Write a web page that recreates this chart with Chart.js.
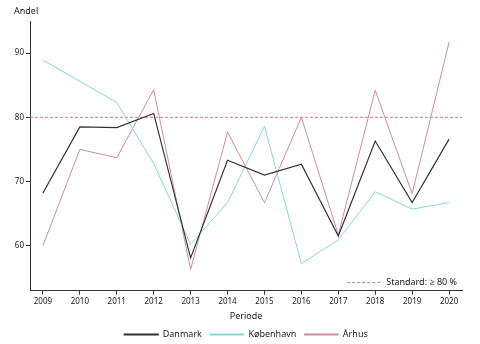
<!DOCTYPE html>
<html>
<head>
<meta charset="utf-8">
<script src="https://cdn.jsdelivr.net/npm/chart.js@4"></script>
<style>
html,body{margin:0;padding:0;background:#fff;}
#wrap{width:480px;height:344px;position:relative;}
</style>
</head>
<body>
<div id="wrap"><canvas id="c" width="480" height="344"></canvas></div>
<script>
const years = [2009,2010,2011,2012,2013,2014,2015,2016,2017,2018,2019,2020];
const danmark = [68.2,78.5,78.4,80.6,58.1,73.3,71.0,72.7,61.5,76.3,66.7,76.6];
const kobenhavn = [88.9,85.6,82.3,72.8,60.2,66.7,78.6,57.2,60.9,68.4,65.7,66.7];
const arhus = [60.0,75.0,73.7,84.3,56.3,77.7,66.7,80.0,61.7,84.2,68.1,91.7];
const standardValue = 80;
const yTicks = [60,70,80,90];
const xMin = 2008.65, xMax = 2020.35;
const yMin = 53, yMax = 95;

const FONT = "'Noto Sans', 'Open Sans', sans-serif";
Chart.defaults.font.family = FONT;
Chart.defaults.font.size = 8;
Chart.defaults.color = '#222';

const toPts = arr => years.map((y,i)=>({x:y,y:arr[i]}));

const extraText = {
  id:'extraText',
  afterDraw(chart){
    const {ctx, chartArea:a} = chart;
    ctx.save();
    ctx.font = "9px " + FONT;
    ctx.fillStyle = '#222';
    ctx.textBaseline = 'middle';
    ctx.textAlign = 'left';
    ctx.fillText('Andel', 14, 11);
    const ty = a.bottom - 8;
    ctx.textAlign = 'right';
    const label = 'Standard: \u2265 80 %';
    ctx.fillText(label, a.right - 5, ty);
    const w = ctx.measureText(label).width;
    const x1 = a.right - 5 - w - 4;
    ctx.strokeStyle = '#d9737f';
    ctx.lineWidth = 1;
    ctx.setLineDash([3,2]);
    ctx.beginPath();
    ctx.moveTo(x1 - 35, ty);
    ctx.lineTo(x1, ty);
    ctx.stroke();
    ctx.restore();
  }
};

new Chart(document.getElementById('c'), {
  type:'line',
  data:{
    datasets:[
      {label:'Danmark', data:toPts(danmark), borderColor:'#333333', backgroundColor:'#333333', borderWidth:1.2, pointRadius:0, tension:0},
      {label:'København', data:toPts(kobenhavn), borderColor:'#86d6da', backgroundColor:'#86d6da', borderWidth:1, pointRadius:0, tension:0},
      {label:'Århus', data:toPts(arhus), borderColor:'#c98e99', backgroundColor:'#c98e99', borderWidth:1, pointRadius:0, tension:0},
      {label:'Standard', data:[{x:xMin,y:standardValue},{x:xMax,y:standardValue}], borderColor:'#d9737f', borderWidth:1, borderDash:[3,2], pointRadius:0}
    ]
  },
  options:{
    responsive:false,
    animation:false,
    devicePixelRatio:1,
    layout:{padding:{top:21,right:18,left:0,bottom:-5}},
    plugins:{
      legend:{
        position:'bottom',
        fullSize:false,
        labels:{
          boxWidth:34, boxHeight:1, padding:8,
          filter:(item)=>item.datasetIndex<3,
          font:{size:9, family:FONT}, color:'#222'
        }
      },
      tooltip:{enabled:false}
    },
    scales:{
      x:{
        type:'linear', min:xMin, max:xMax,
        afterBuildTicks:(axis)=>{axis.ticks = years.map(v=>({value:v}));},
        grid:{display:true, drawOnChartArea:false, drawTicks:true, tickLength:4, color:'#333'},
        border:{display:true, color:'#333', width:1},
        ticks:{callback:v=>String(v), padding:2, maxRotation:0, autoSkip:false, color:'#222', font:{size:8}},
        title:{display:true, text:'Periode', padding:{top:3,bottom:0}, color:'#222', font:{size:9}}
      },
      y:{
        min:yMin, max:yMax,
        afterBuildTicks:(axis)=>{axis.ticks = yTicks.map(v=>({value:v}));},
        afterFit:(scale)=>{scale.width = 30;},
        grid:{display:true, drawOnChartArea:false, drawTicks:true, tickLength:4, color:'#333'},
        border:{display:true, color:'#333', width:1},
        ticks:{padding:2, color:'#222', font:{size:8}}
      }
    }
  },
  plugins:[extraText]
});
</script>
</body>
</html>
